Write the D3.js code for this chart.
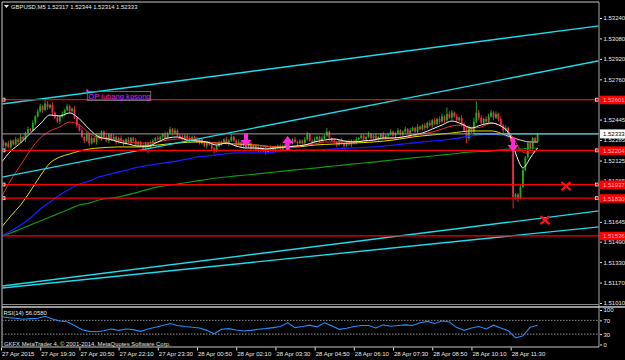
<!DOCTYPE html>
<html>
<head>
<meta charset="utf-8">
<script src="https://cdnjs.cloudflare.com/ajax/libs/d3/7.8.5/d3.min.js"></script>
<style>
    html, body { margin: 0; padding: 0; background: #000; }
    svg { display: block; }
    text { font-family: "Liberation Sans", Arial, sans-serif; }
</style>
</head>
<body>
<div id="chart"></div>
<script>

// ---------------- data ----------------
var chartTitle = "GBPUSD,M5  1.52317 1.52344 1.52314 1.52333";
var rsiTitle = "RSI(14) 56.0580";
var brokerText = "GKFX MetaTrader 4, \u00a9 2001-2014, MetaQuotes Software Corp.";

// M5 closes, 27 Apr 18:10 .. 28 Apr 12:25 (each bar opens at the previous close)
var firstOpen = 1.5226;
var closes = [
    1.5227, 1.5224, 1.5226, 1.5223, 1.5228, 1.5225, 1.5229,
    1.5227, 1.5231, 1.5229, 1.5234, 1.5237,
    1.5236, 1.5242, 1.5247, 1.5251,
    1.5255, 1.5252, 1.5257, 1.5254, 1.5256, 1.5250,
    1.5246, 1.5243, 1.5247, 1.5249,
    1.5252, 1.5255, 1.5251, 1.5253,
    1.5246, 1.5240, 1.5236, 1.5231,
    1.5228, 1.5233, 1.5226, 1.5230, 1.5227, 1.5232,
    1.5230, 1.5235, 1.5231, 1.5228, 1.5233,
    1.5229, 1.5231, 1.5227, 1.5230, 1.5228, 1.5226, 1.5229, 1.5227, 1.5230, 1.5228,
    1.5225, 1.5227, 1.5224, 1.5222, 1.5226, 1.5223, 1.5226,
    1.5228, 1.5230, 1.5229, 1.5231, 1.5233, 1.5230, 1.5234,
    1.5237, 1.5234, 1.5236, 1.5232,
    1.5231, 1.5229, 1.5232, 1.5230, 1.5228, 1.5231, 1.5229, 1.5227, 1.5229,
    1.5226, 1.5224, 1.5227, 1.5225, 1.5222, 1.5220, 1.5224, 1.5226,
    1.5227, 1.5229, 1.5226, 1.5228, 1.5231, 1.5228, 1.5225, 1.5227, 1.5224, 1.5226, 1.5223, 1.5225,
    1.5222, 1.5224, 1.5221, 1.5223, 1.5220, 1.5222, 1.5219, 1.5221, 1.5223, 1.5220, 1.5222, 1.5224, 1.5221, 1.5223,
    1.5225, 1.5227, 1.5226, 1.5229, 1.5227, 1.5226, 1.5228,
    1.5226, 1.5229, 1.5233, 1.5228, 1.5227,
    1.5229, 1.5231, 1.5228, 1.5230, 1.5232, 1.5235, 1.5230, 1.5228,
    1.5227, 1.5225, 1.5228, 1.5226, 1.5224, 1.5227, 1.5225, 1.5228, 1.5226, 1.5229,
    1.5230, 1.5232, 1.5229, 1.5231, 1.5233, 1.5230, 1.5232, 1.5229, 1.5231, 1.5233, 1.5230, 1.5232,
    1.5233, 1.5235, 1.5232, 1.5234, 1.5236, 1.5233, 1.5235, 1.5237, 1.5234,
    1.5236, 1.5238, 1.5235, 1.5239, 1.5237,
    1.5240, 1.5238, 1.5242, 1.5240, 1.5244, 1.5241, 1.5245, 1.5243,
    1.5247, 1.5244, 1.5249, 1.5246, 1.5250, 1.5247, 1.5244, 1.5246,
    1.5241, 1.5236, 1.5230, 1.5238, 1.5235,
    1.5243, 1.5250,
    1.5246, 1.5242, 1.5245, 1.5243,
    1.5247, 1.5250, 1.5246, 1.5249, 1.5245,
    1.5240, 1.5236, 1.5238, 1.5232,
    1.5228,
    1.5184, 1.5186, 1.5183, 1.5192, 1.5205, 1.5215, 1.5226, 1.5222, 1.5230, 1.5227, 1.52333
];

// wick lengths in pips above / below the body
var wickUp = [
    1,2,1,2,1,1,2,1,2,1,1,2,1,2,1,2,2,1,3,2,
    1,2,1,2,1,2,1,2,1,1,2,1,1,2,1,2,1,2,1,2,
    2,1,1,2,1,1,2,1,1,2,1,1,2,1,1,2,1,1,2,1,
    1,2,1,1,2,1,1,2,1,2,1,2,1,1,2,1,1,2,1,1,
    2,1,1,2,1,1,2,1,1,2,1,1,2,1,2,1,1,2,1,1,
    1,1,2,1,1,2,1,1,2,1,1,1,2,1,1,2,1,2,1,1,
    2,1,1,1,2,2,1,1,2,1,1,2,1,3,1,1,2,1,1,2,
    1,1,2,1,1,2,1,2,1,1,2,1,1,2,1,1,2,1,1,2,
    1,1,2,1,1,2,1,2,1,1,2,1,1,2,1,2,1,2,1,2,
    2,1,5,2,2,1,2,1,2,1,3,2,1,3,9,2,2,1,2,2,
    2,1,2,1,2,1,2,1,1,1,1,1,1,1,1,2,2,1,1,1
];
var wickDn = [
    2,1,2,1,2,1,1,2,1,1,2,1,1,1,2,1,1,2,1,2,
    1,2,1,1,2,1,2,1,2,1,1,2,1,1,2,1,2,1,1,2,
    1,2,1,1,2,1,1,2,1,1,2,1,1,2,1,1,2,1,1,2,
    5,1,1,2,1,1,2,1,1,1,2,1,1,2,1,1,2,1,1,2,
    1,2,1,1,2,1,1,2,1,1,2,1,1,2,1,1,2,1,1,2,
    1,1,2,1,1,2,1,1,2,1,1,2,1,1,2,1,1,2,1,1,
    1,2,1,1,2,1,1,2,1,1,2,1,1,1,2,1,1,2,1,1,
    2,1,1,2,1,1,2,1,1,2,1,1,2,1,1,2,1,1,2,1,
    1,2,1,1,2,1,1,2,1,1,2,1,1,2,1,1,2,1,1,2,
    1,2,1,1,2,1,2,1,2,1,4,2,1,2,1,2,1,2,1,2,
    1,2,1,2,1,2,1,2,1,9,2,3,1,1,1,1,2,1,1,1
];

// moving averages, sampled at these bars
var fastBars = [0,4,8,12,16,20,24,28,32,36,40,44,48,52,56,60,64,68,72,76,80,84,88,92,96,100,
    104,108,112,116,120,124,128,132,136,140,144,148,152,156,160,164,168,172,176,180,184,188,192,196,
    200,204,208,210,212,213,214,216,218,219];
var maWhite = [
    1.52105, 1.52199, 1.52262, 1.52340, 1.52411, 1.52481, 1.52473, 1.52497, 1.52450, 1.52371,
    1.52309, 1.52293, 1.52270, 1.52254, 1.52238, 1.52238, 1.52270, 1.52301, 1.52309, 1.52285,
    1.52278, 1.52270, 1.52246, 1.52262, 1.52238, 1.52223, 1.52223, 1.52215, 1.52223, 1.52231,
    1.52238, 1.52246, 1.52270, 1.52285, 1.52293, 1.52278, 1.52270, 1.52278, 1.52285, 1.52301,
    1.52301, 1.52309, 1.52325, 1.52340, 1.52371, 1.52403, 1.52434, 1.52411, 1.52379, 1.52403,
    1.52418, 1.52395, 1.52309,
    1.52184, 1.52090, 1.52066, 1.52082, 1.52145, 1.52199, 1.52223
];
var maRed = [
    1.51832, 1.51972, 1.52090, 1.52207, 1.52301, 1.52356, 1.52387, 1.52426, 1.52403, 1.52340,
    1.52301, 1.52293, 1.52285, 1.52270, 1.52262, 1.52262, 1.52270, 1.52285, 1.52293, 1.52301,
    1.52278, 1.52270, 1.52262, 1.52262, 1.52254, 1.52262, 1.52246, 1.52238, 1.52231, 1.52231,
    1.52231, 1.52246, 1.52254, 1.52270, 1.52270, 1.52270, 1.52270, 1.52278, 1.52285, 1.52293,
    1.52301, 1.52309, 1.52317, 1.52332, 1.52348, 1.52371, 1.52395, 1.52403, 1.52379, 1.52387,
    1.52418, 1.52395, 1.52332,
    1.52270, 1.52207, 1.52192, 1.52184, 1.52184, 1.52199, 1.52207
];
var slowBars = [0,4,8,12,16,20,24,28,32,36,40,48,56,64,72,80,88,96,104,112,120,128,136,144,152,
    160,168,176,184,192,200,208,212,216,219];
var maYellow = [
    1.51597, 1.51691, 1.51777, 1.51886, 1.52004, 1.52105, 1.52152, 1.52176, 1.52199, 1.52215,
    1.52223, 1.52231, 1.52231, 1.52246, 1.52262, 1.52270, 1.52262, 1.52254, 1.52246, 1.52231,
    1.52231, 1.52246, 1.52254, 1.52262, 1.52270, 1.52285, 1.52309, 1.52325, 1.52340, 1.52356,
    1.52356, 1.52309, 1.52285, 1.52270, 1.52270
];
var maBlue = [
    1.51534, 1.51573, 1.51620, 1.51675, 1.51746, 1.51800, 1.51855, 1.51902, 1.51941, 1.51965,
    1.51996, 1.52035, 1.52074, 1.52098, 1.52121, 1.52152, 1.52168, 1.52184, 1.52184, 1.52192,
    1.52207, 1.52207, 1.52215, 1.52223, 1.52231, 1.52246, 1.52262, 1.52278, 1.52293, 1.52317,
    1.52332, 1.52309, 1.52285, 1.52270, 1.52270
];
var maGreen = [
    1.51534, 1.51558, 1.51589, 1.51620, 1.51652, 1.51683, 1.51714, 1.51746, 1.51777, 1.51792,
    1.51816, 1.51839, 1.51878, 1.51918, 1.51941, 1.51965, 1.51988, 1.52004, 1.52019, 1.52035,
    1.52051, 1.52066, 1.52082, 1.52098, 1.52113, 1.52129, 1.52145, 1.52160, 1.52176, 1.52192,
    1.52199, 1.52215, 1.52215, 1.52223, 1.52223
];

// RSI(14), every third bar
var rsiBars = d3.range(0, 220, 3);
var rsiValues = [
    81, 78, 76, 73, 75, 76, 82, 74, 68, 66, 55, 43, 38, 37, 40, 45, 41, 45, 43, 38,
    45, 50, 55, 61, 55, 52, 50, 48, 41, 31, 44, 46, 42, 39, 41, 44, 46, 49, 52, 63,
    49, 52, 56, 51, 63, 54, 44, 47, 52, 55, 55, 48, 57, 53, 55, 57, 55, 63, 67, 61,
    68, 65, 49, 41, 48, 52, 45, 56, 48, 40, 19, 25, 50, 56.058
];
var rsiLevels = [70, 30];
var rsiTicks = [100, 70, 30, 0];

// objects drawn on the chart
var hLevels = [1.52601, 1.52204, 1.51937, 1.51830, 1.51536];
var hLevelMarks = [true, true, true, true, false];
var trendLines = [            // [bar, price, bar, price]
    [0, 1.52566, 240, 1.53168],
    [0, 1.51993, 240, 1.52890],
    [0, 1.51142, 240, 1.51721],
    [0, 1.51127, 240, 1.51598]
];
var cyanLevel = {bar: 193, price: 1.52333};
var arrows = [                // dir 1 = down, -1 = up ; price at the tip
    {bar: 100, price: 1.52231, dir: 1},
    {bar: 117, price: 1.52317, dir: -1},
    {bar: 209, price: 1.52192, dir: 1}
];
var crosses = [{bar: 230.6, price: 1.51925}, {bar: 222, price: 1.51659}];
var note = {bar: 35, price: 1.52669, text: "OP lubang kosong"};
var lastPrice = 1.52333;

// scale labels (1.52600 and 1.51805 sit under the level tags)
var priceTicks = [1.53240, 1.53080, 1.52920, 1.52760, 1.52445, 1.52285, 1.52125,
    1.51965, 1.51645, 1.51490, 1.51330, 1.51170, 1.51010];
var timeTickBars = [0, 16, 32, 48, 64, 80, 96, 112, 128, 144, 160, 176, 192, 208];
var timeLabels = ["27 Apr 2015", "27 Apr 19:30", "27 Apr 20:50", "27 Apr 22:10", "27 Apr 23:30",
    "28 Apr 00:50", "28 Apr 02:10", "28 Apr 03:30", "28 Apr 04:50", "28 Apr 06:10",
    "28 Apr 07:30", "28 Apr 08:50", "28 Apr 10:10", "28 Apr 11:30"];

// ---------------- drawing ----------------
var W = 625, H = 360;
var pip = 0.0001;
var plot = {left: 2, right: 599, top: 2, bottom: 305};
var sub = {top: 307, bottom: 347};
var fontSize = "6px";

var svg = d3.select("#chart").append("svg")
    .attr("width", W)
    .attr("height", H)
    .style("background", "#000");

var x = d3.scaleLinear().domain([0, 219]).range([1, 537.6]);
var y = d3.scaleLinear().domain([1.51010, 1.53240]).range([303, 18]);
var yRsi = d3.scaleLinear().domain([0, 100]).range([344.5, 310]);

svg.append("clipPath").attr("id", "clipMain")
    .append("rect").attr("x", plot.left + 0.5).attr("y", plot.top + 0.5)
    .attr("width", plot.right - plot.left - 1).attr("height", plot.bottom - plot.top - 1);
svg.append("clipPath").attr("id", "clipSub")
    .append("rect").attr("x", plot.left + 0.5).attr("y", sub.top + 0.5)
    .attr("width", plot.right - plot.left - 1).attr("height", sub.bottom - sub.top - 1);

var main = svg.append("g").attr("clip-path", "url(#clipMain)");

// candles
var bars = closes.map(function(c, i) {
    var o = i === 0 ? firstOpen : closes[i - 1];
    return {
        i: i, o: o, c: c,
        h: Math.max(o, c) + wickUp[i] * pip,
        l: Math.min(o, c) - wickDn[i] * pip
    };
});
var bull = "#19b019", bear = "#f0284e";

main.selectAll("line.wick")
    .data(bars)
    .enter()
    .append("line")
    .attr("class", "wick")
    .attr("x1", function(d) { return x(d.i); })
    .attr("x2", function(d) { return x(d.i); })
    .attr("y1", function(d) { return y(d.h); })
    .attr("y2", function(d) { return y(d.l); })
    .attr("stroke", function(d) { return d.c >= d.o ? bull : bear; })
    .attr("stroke-width", 0.9);

main.selectAll("rect.body")
    .data(bars)
    .enter()
    .append("rect")
    .attr("class", "body")
    .attr("x", function(d) { return x(d.i) - 0.9; })
    .attr("width", 1.8)
    .attr("y", function(d) { return y(Math.max(d.o, d.c)); })
    .attr("height", function(d) { return Math.max(0.9, y(Math.min(d.o, d.c)) - y(Math.max(d.o, d.c))); })
    .attr("fill", function(d) { return d.c >= d.o ? bull : bear; });

// moving averages
function drawMa(barsIdx, values, color, width) {
    var pts = values.map(function(v, i) { return [barsIdx[i], v]; });
    main.append("path")
        .datum(pts)
        .attr("fill", "none")
        .attr("stroke", color)
        .attr("stroke-width", width)
        .attr("d", d3.line()
            .x(function(d) { return x(d[0]); })
            .y(function(d) { return y(d[1]); })
            .curve(d3.curveMonotoneX));
}
drawMa(slowBars, maGreen, "#109a10", 1.2);
drawMa(slowBars, maBlue, "#1a1aff", 1.3);
drawMa(slowBars, maYellow, "#e0e000", 1);
drawMa(fastBars, maRed, "#ee2a2a", 1);
drawMa(fastBars, maWhite, "#f4f4f4", 1);

// last price line
main.append("line")
    .attr("x1", plot.left).attr("x2", plot.right)
    .attr("y1", y(lastPrice)).attr("y2", y(lastPrice))
    .attr("stroke", "#a0a0a0").attr("stroke-width", 1);
main.append("line")
    .attr("x1", x(cyanLevel.bar)).attr("x2", plot.right)
    .attr("y1", y(cyanLevel.price)).attr("y2", y(cyanLevel.price))
    .attr("stroke", "#40d8e8").attr("stroke-width", 1);

// trend lines, extended over the whole window
trendLines.forEach(function(t) {
    var x0 = x(t[0]), y0 = y(t[1]), x1 = x(t[2]), y1 = y(t[3]);
    var k = (y1 - y0) / (x1 - x0);
    main.append("line")
        .attr("x1", plot.left).attr("y1", y0 + k * (plot.left - x0))
        .attr("x2", plot.right).attr("y2", y0 + k * (plot.right - x0))
        .attr("stroke", "#1edbe8")
        .attr("stroke-width", 1.4);
});

// horizontal levels
hLevels.forEach(function(p, i) {
    main.append("line")
        .attr("x1", plot.left).attr("x2", plot.right)
        .attr("y1", y(p)).attr("y2", y(p))
        .attr("stroke", "#ff0000").attr("stroke-width", 1.3);
    if (hLevelMarks[i]) {
        [plot.left + 1.5, plot.right - 2].forEach(function(mx) {
            main.append("rect")
                .attr("x", mx - 1.5).attr("y", y(p) - 1.5)
                .attr("width", 3).attr("height", 3)
                .attr("fill", "#ff0000")
                .attr("stroke", "#ffffff").attr("stroke-width", 0.7);
        });
    }
});

// arrows
arrows.forEach(function(a) {
    var cx = x(a.bar), ty = y(a.price), s = a.dir;
    var p = d3.path();
    p.moveTo(cx - 2, ty - s * 14);
    p.lineTo(cx + 2, ty - s * 14);
    p.lineTo(cx + 2, ty - s * 7);
    p.lineTo(cx + 5.5, ty - s * 7);
    p.lineTo(cx, ty);
    p.lineTo(cx - 5.5, ty - s * 7);
    p.lineTo(cx - 2, ty - s * 7);
    p.closePath();
    main.append("path").attr("d", p.toString()).attr("fill", "#ff28d8");
});

// red crosses
crosses.forEach(function(c) {
    var cx = x(c.bar), cy = y(c.price);
    main.append("path")
        .attr("d", "M" + (cx - 4.5) + "," + (cy - 4) + "L" + (cx + 4.5) + "," + (cy + 4) +
            "M" + (cx + 4.5) + "," + (cy - 4) + "L" + (cx - 4.5) + "," + (cy + 4))
        .attr("stroke", "#ff1010").attr("stroke-width", 2.4).attr("fill", "none");
});

// text note
var nx = x(note.bar), ny = y(note.price);
main.append("rect")
    .attr("x", nx + 0.5).attr("y", ny + 0.5)
    .attr("width", 63.5).attr("height", 9)
    .attr("fill", "none").attr("stroke", "#808080").attr("stroke-width", 0.8);
main.append("rect")
    .attr("x", nx - 0.5).attr("y", ny - 1.5)
    .attr("width", 2).attr("height", 2)
    .attr("fill", "#ff28d8");
main.append("text")
    .attr("x", nx + 1.5).attr("y", ny + 8)
    .attr("fill", "#e020f0")
    .style("font-size", "7.6px")
    .text(note.text);

// title
svg.append("path").attr("d", "M4,5L9,5L6.5,8Z").attr("fill", "#e8e8e8");
svg.append("text")
    .attr("x", 11).attr("y", 9)
    .attr("fill", "#e8e8e8")
    .style("font-size", "5.9px")
    .text(chartTitle);

// ---------- RSI window ----------
var rsiG = svg.append("g").attr("clip-path", "url(#clipSub)");
rsiLevels.forEach(function(v) {
    rsiG.append("line")
        .attr("x1", plot.left).attr("x2", plot.right)
        .attr("y1", yRsi(v)).attr("y2", yRsi(v))
        .attr("stroke", "#b8b8b8").attr("stroke-width", 0.8)
        .attr("stroke-dasharray", "1.5,1.5");
});
rsiG.append("path")
    .datum(rsiValues.map(function(v, i) { return [rsiBars[i], v]; }))
    .attr("fill", "none")
    .attr("stroke", "#1e8fff")
    .attr("stroke-width", 1.1)
    .attr("d", d3.line()
        .x(function(d) { return x(d[0]); })
        .y(function(d) { return yRsi(d[1]); }));
svg.append("text")
    .attr("x", 3.5).attr("y", 315)
    .attr("fill", "#e8e8e8").style("font-size", "5.9px")
    .text(rsiTitle);
svg.append("text")
    .attr("x", 4).attr("y", 345.5)
    .attr("fill", "#e0e0e0").style("font-size", "5.9px")
    .text(brokerText);

// ---------- frames ----------
var frame = "#c8c8c8";
svg.append("line").attr("x1", plot.left).attr("x2", plot.right).attr("y1", plot.top).attr("y2", plot.top)
    .attr("stroke", frame).attr("stroke-width", 1);
svg.append("line").attr("x1", plot.left).attr("x2", plot.left).attr("y1", plot.top).attr("y2", sub.bottom)
    .attr("stroke", frame).attr("stroke-width", 1);
svg.append("line").attr("x1", plot.right).attr("x2", plot.right).attr("y1", plot.top).attr("y2", sub.bottom)
    .attr("stroke", "#a8a8a8").attr("stroke-width", 1);
svg.append("line").attr("x1", plot.left).attr("x2", plot.right).attr("y1", plot.bottom - 0.5).attr("y2", plot.bottom - 0.5)
    .attr("stroke", "#8a8a8a").attr("stroke-width", 1);
svg.append("line").attr("x1", plot.left).attr("x2", W).attr("y1", sub.top).attr("y2", sub.top)
    .attr("stroke", frame).attr("stroke-width", 1.4);
svg.append("line").attr("x1", plot.left).attr("x2", plot.right).attr("y1", sub.bottom).attr("y2", sub.bottom)
    .attr("stroke", frame).attr("stroke-width", 1);

// ---------- axes ----------
function styleAxis(g) {
    g.select(".domain").remove();
    g.selectAll(".tick line").attr("stroke", "#e0e0e0");
    g.selectAll(".tick text")
        .attr("fill", "#e8e8e8")
        .style("font-size", fontSize)
        .style("font-family", "Liberation Sans, Arial, sans-serif");
}

var yAxis = d3.axisRight(y)
    .tickValues(priceTicks)
    .tickSize(2)
    .tickPadding(1.5)
    .tickFormat(d3.format(".5f"));
svg.append("g")
    .attr("transform", "translate(" + (plot.right + 1) + ",0)")
    .call(yAxis)
    .call(styleAxis);

var rsiAxis = d3.axisRight(yRsi)
    .tickValues(rsiTicks)
    .tickSize(2)
    .tickPadding(1.5);
svg.append("g")
    .attr("transform", "translate(" + (plot.right + 1) + ",0)")
    .call(rsiAxis)
    .call(styleAxis);

var xAxis = d3.axisBottom(x)
    .tickValues(timeTickBars)
    .tickSize(3)
    .tickPadding(1)
    .tickFormat(function(d, i) { return timeLabels[i]; });
svg.append("g")
    .attr("transform", "translate(0," + (sub.bottom + 0.5) + ")")
    .call(xAxis)
    .call(styleAxis)
    .selectAll(".tick text")
    .style("text-anchor", "start")
    .attr("x", 0.5);

// level price tags on the scale
hLevels.forEach(function(p) {
    svg.append("rect")
        .attr("x", plot.right + 1).attr("y", y(p) - 4)
        .attr("width", W - plot.right).attr("height", 8.5)
        .attr("fill", "#ff0000");
    svg.append("text")
        .attr("x", plot.right + 4).attr("y", y(p) + 2.4)
        .attr("fill", "#ffb8b8").style("font-size", fontSize)
        .text(d3.format(".5f")(p));
});
svg.append("rect")
    .attr("x", plot.right + 1).attr("y", y(lastPrice) - 4.5)
    .attr("width", W - plot.right).attr("height", 9)
    .attr("fill", "#ffffff");
svg.append("text")
    .attr("x", plot.right + 4).attr("y", y(lastPrice) + 2.2)
    .attr("fill", "#000000").style("font-size", fontSize)
    .text(d3.format(".5f")(lastPrice));

</script>
</body>
</html>
